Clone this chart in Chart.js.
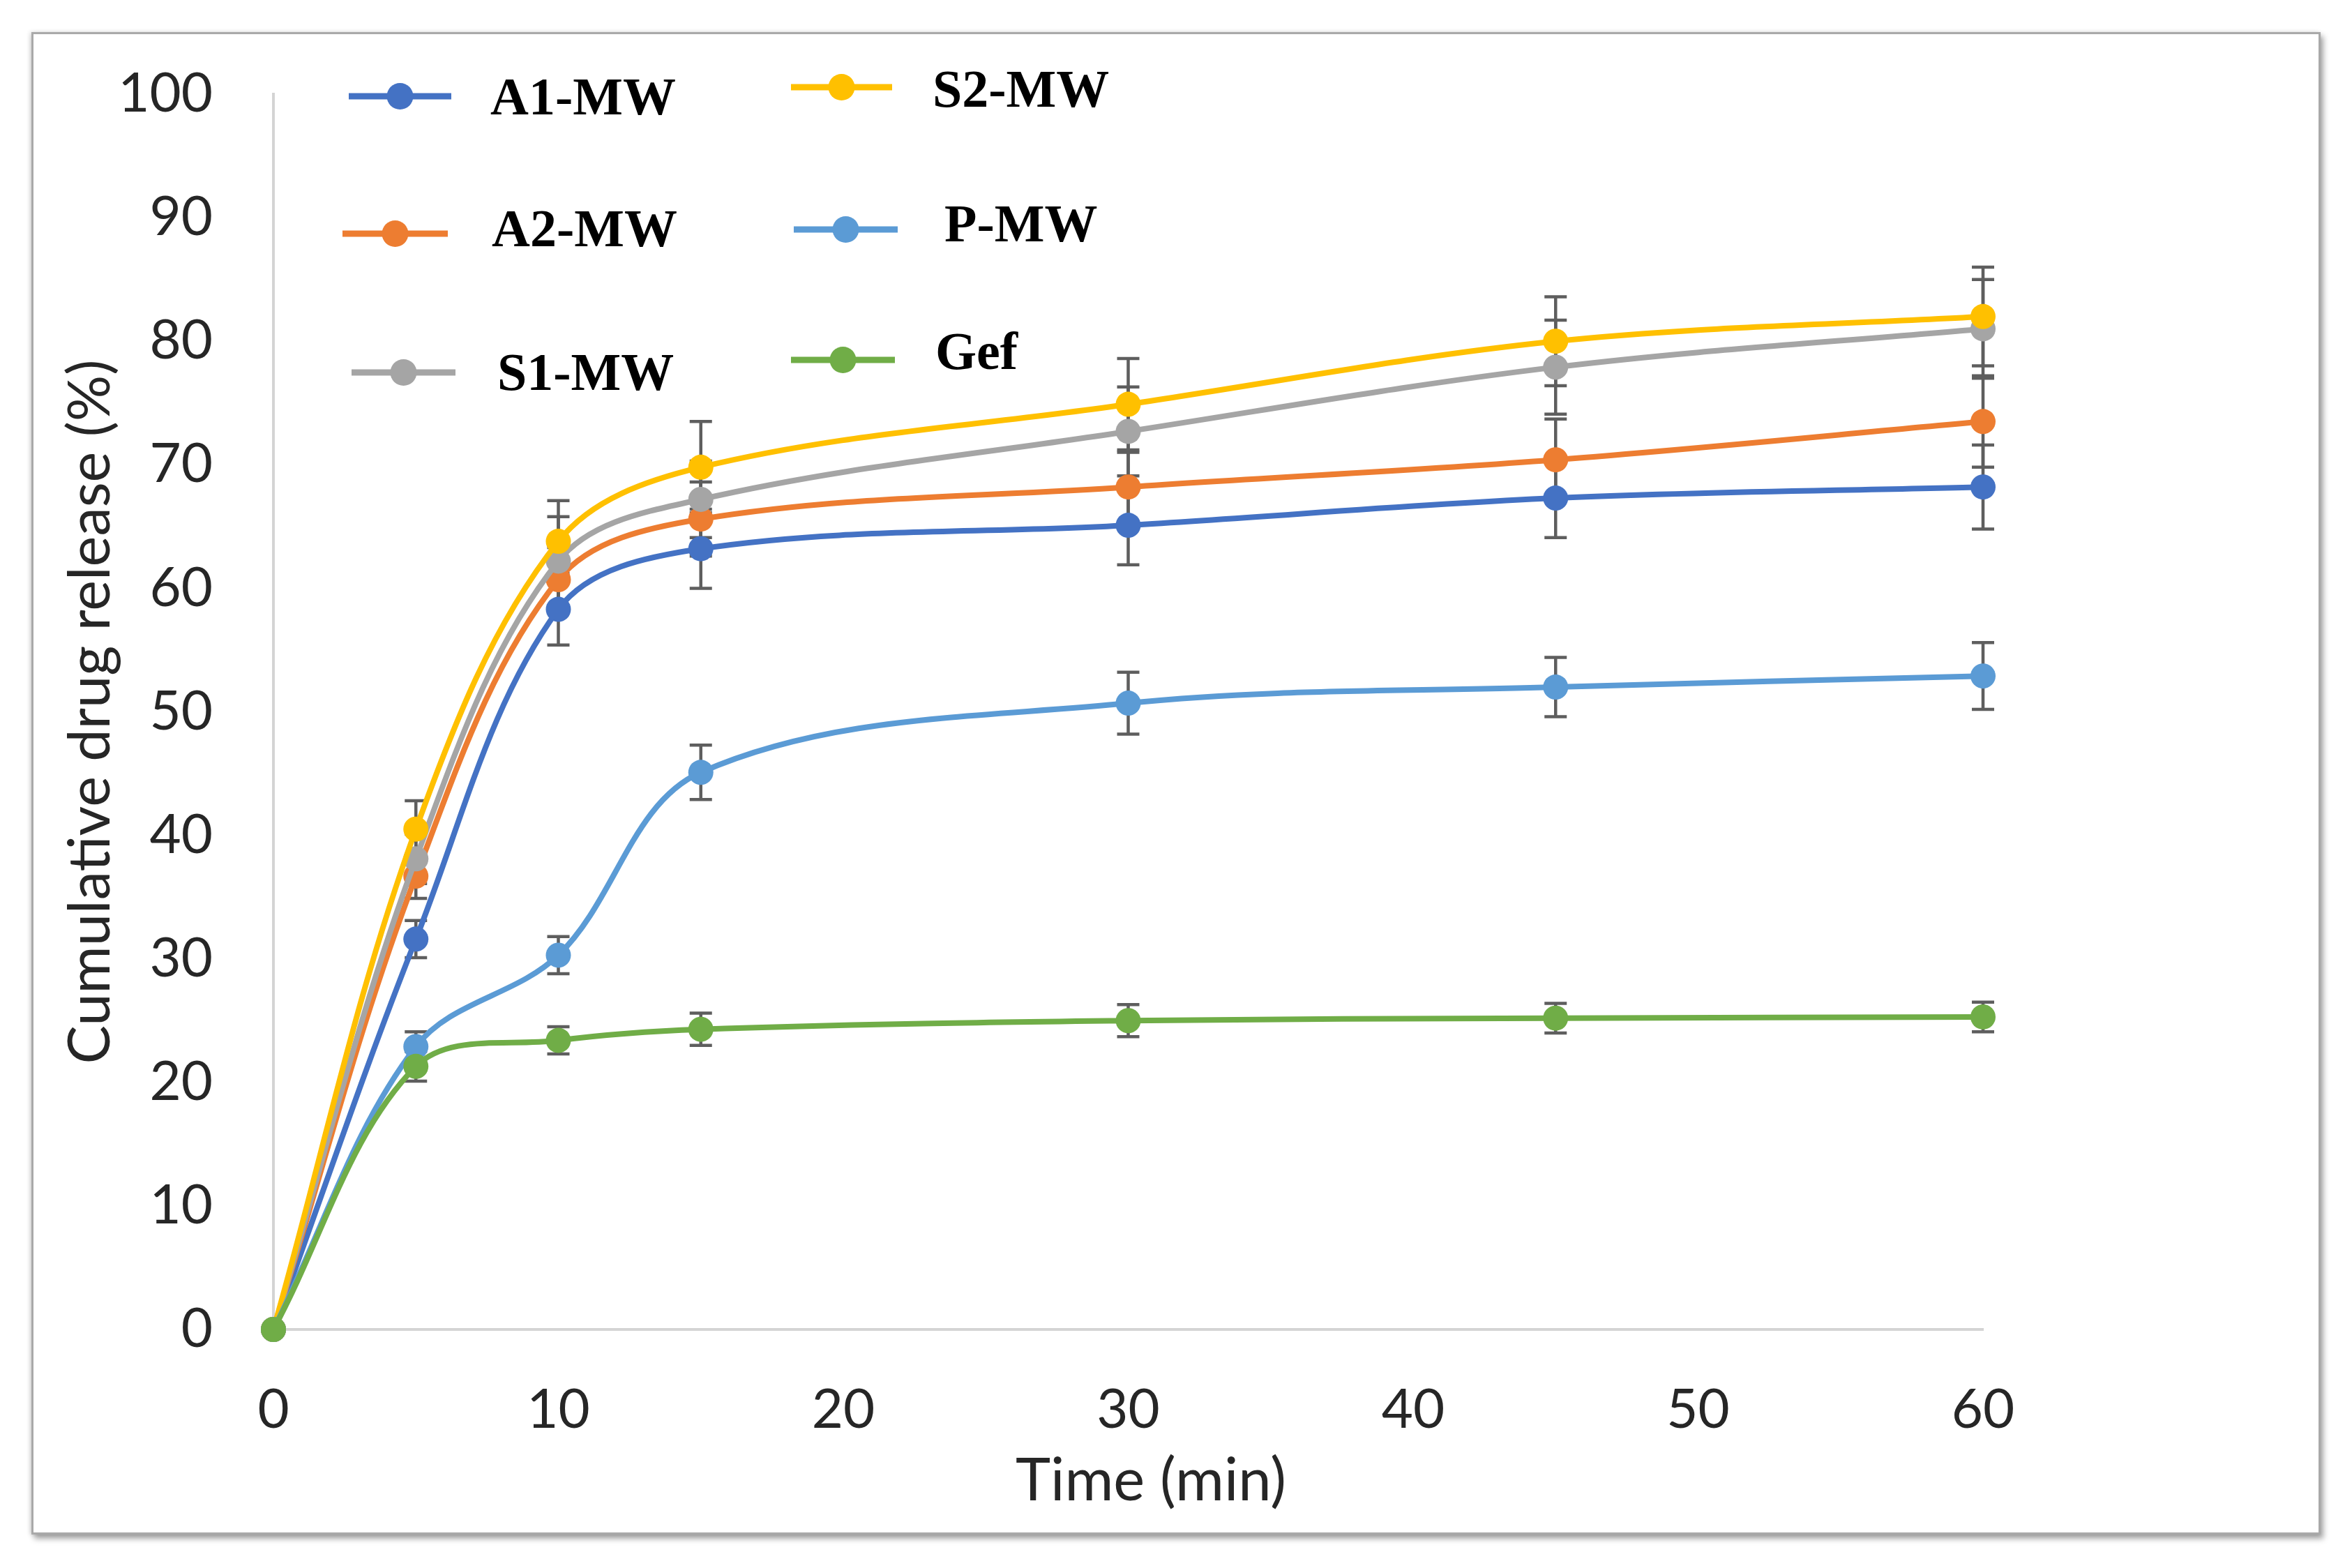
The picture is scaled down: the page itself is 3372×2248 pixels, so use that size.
<!DOCTYPE html>
<html>
<head>
<meta charset="utf-8">
<script src="https://cdn.jsdelivr.net/npm/chart.js@4.4.1/dist/chart.umd.min.js"></script>
<style>
html,body{margin:0;padding:0;background:#fff;width:3372px;height:2248px;overflow:hidden;}
#frame{position:absolute;left:45px;top:46px;width:3276px;height:2148px;border:3px solid #a9a9a9;
  box-shadow:4px 6px 8px rgba(0,0,0,0.35), -2px 0 6px rgba(0,0,0,0.15);background:#fff;}
#c{position:absolute;left:0;top:0;}
</style>
</head>
<body>
<div id="frame"></div>
<canvas id="c" width="3372" height="2248" style="width:3372px;height:2248px"></canvas>
<script>
// ---- data ----
const times = [0, 5, 10, 15, 30, 45, 60];
const seriesLabels = ['A1-MW', 'A2-MW', 'S1-MW', 'S2-MW', 'P-MW', 'Gef'];
const A1  = [0, 31.6, 58.3, 63.2, 65.1, 67.3, 68.2];
const A2  = [0, 36.7, 60.7, 65.6, 68.2, 70.4, 73.5];
const S1  = [0, 38.1, 62.2, 67.2, 72.7, 77.9, 81.0];
const S2  = [0, 40.5, 63.8, 69.8, 74.9, 80.0, 82.0];
const PMW = [0, 22.9, 30.3, 45.1, 50.7, 52.0, 52.9];
const Gef = [0, 21.3, 23.4, 24.3, 25.0, 25.2, 25.3];
const A1err  = [0, 1.5, 2.9, 3.2, 3.2, 3.2, 3.4];
const A2err  = [0, 1.8, 2.6, 3.0, 2.8, 3.3, 3.7];
const S1err  = [0, 2.0, 3.6, 3.1, 3.6, 3.8, 4.0];
const S2err  = [0, 2.3, 3.3, 3.7, 3.7, 3.6, 4.0];
const PMWerr = [0, 1.2, 1.5, 2.2, 2.5, 2.4, 2.7];
const Geferr = [0, 1.2, 1.1, 1.3, 1.3, 1.2, 1.2];
const xTicks = [0, 10, 20, 30, 40, 50, 60];
const yTicks = [0, 10, 20, 30, 40, 50, 60, 70, 80, 90, 100];
const xTitle = 'Time (min)';
const yTitle = 'Cumulative drug release (%)';

const values = [A1, A2, S1, S2, PMW, Gef];
const errors = [A1err, A2err, S1err, S2err, PMWerr, Geferr];
const colors = ['#4472C4', '#ED7D31', '#A5A5A5', '#FFC000', '#5B9BD5', '#70AD47'];
const drawOrder = [5, 4, 3, 2, 1, 0];

// legend slot layout: [lineX1, lineX2, lineY, textX, textBaseline]
const legendSlots = [
  [500, 647, 138, 703, 164],
  [491, 642, 335, 705, 353],
  [504, 653, 534, 713, 559],
  [1134, 1279, 125, 1337, 153],
  [1138, 1287, 329, 1354, 346],
  [1134, 1283, 516, 1341, 529]
];

const datasets = values.map((arr, k) => ({
  label: seriesLabels[k],
  data: times.map((t, i) => ({x: t, y: arr[i]})),
  errors: errors[k],
  borderColor: colors[k],
  backgroundColor: colors[k],
  pointBackgroundColor: colors[k],
  pointBorderWidth: 0,
  pointRadius: 18,
  pointHoverRadius: 18,
  borderWidth: 8,
  tension: 0.35,
  fill: false,
  clip: false,
  order: drawOrder[k]
}));

const errorBarPlugin = {
  id: 'errbars',
  beforeDatasetsDraw(chart) {
    const {ctx} = chart;
    const xs = chart.scales.x, ys = chart.scales.y;
    ctx.save();
    ctx.strokeStyle = '#5e5e5e';
    ctx.lineWidth = 4.5;
    chart.data.datasets.forEach(ds => {
      ds.data.forEach((p, i) => {
        const e = ds.errors[i];
        if (!e) return;
        const px = xs.getPixelForValue(p.x);
        const yt = ys.getPixelForValue(p.y + e);
        const yb = ys.getPixelForValue(p.y - e);
        ctx.beginPath();
        ctx.moveTo(px, yt); ctx.lineTo(px, yb);
        ctx.moveTo(px - 16, yt); ctx.lineTo(px + 16, yt);
        ctx.moveTo(px - 16, yb); ctx.lineTo(px + 16, yb);
        ctx.stroke();
      });
    });
    ctx.restore();
  }
};

const legendPlugin = {
  id: 'customLegend',
  afterDraw(chart) {
    const {ctx} = chart;
    ctx.save();
    chart.data.datasets.forEach((ds, k) => {
      const [x1, x2, ly, tx, tb] = legendSlots[k];
      ctx.strokeStyle = ds.borderColor;
      ctx.lineWidth = 9;
      ctx.lineCap = 'butt';
      ctx.beginPath();
      ctx.moveTo(x1, ly); ctx.lineTo(x2, ly);
      ctx.stroke();
      ctx.fillStyle = ds.borderColor;
      ctx.beginPath();
      ctx.arc((x1 + x2) / 2, ly, 19, 0, Math.PI * 2);
      ctx.fill();
      ctx.fillStyle = '#000';
      ctx.font = 'bold 76px "Liberation Serif", "Times New Roman", serif';
      ctx.textAlign = 'left';
      ctx.textBaseline = 'alphabetic';
      ctx.fillText(ds.label, tx, tb);
    });
    // x axis title (slightly right of the plot centre, as in the original)
    ctx.fillStyle = '#262626';
    ctx.font = '85px Lato';
    ctx.textAlign = 'center';
    ctx.textBaseline = 'middle';
    ctx.fillText(xTitle, 1650, 2124);
    ctx.restore();
  }
};

new Chart(document.getElementById('c'), {
  type: 'line',
  data: {datasets},
  plugins: [errorBarPlugin, legendPlugin],
  options: {
    responsive: false,
    devicePixelRatio: 1,
    animation: false,
    events: [],
    layout: {padding: {left: 0, right: 529, top: 135, bottom: 0}},
    plugins: {legend: {display: false}, tooltip: {enabled: false}},
    scales: {
      x: {
        type: 'linear',
        min: 0, max: 60,
        afterBuildTicks(s) { s.ticks = xTicks.map(v => ({value: v})); },
        afterFit(s) { s.height = 342; },
        grid: {display: false, drawTicks: false},
        border: {display: true, color: '#d4d4d4', width: 4},
        ticks: {padding: 69, color: '#262626', font: {family: 'Lato', size: 78}, maxRotation: 0},
        title: {display: false}
      },
      y: {
        type: 'linear',
        min: 0, max: 100,
        afterBuildTicks(s) { s.ticks = yTicks.map(v => ({value: v})); },
        afterFit(s) { s.width = 392; },
        grid: {display: false, drawTicks: false},
        border: {display: true, color: '#d4d4d4', width: 4},
        ticks: {padding: 87, color: '#262626', font: {family: 'Lato', size: 78}},
        title: {display: true, text: yTitle, color: '#262626',
                font: {family: 'Lato', size: 83}, padding: {top: 80, bottom: 0}}
      }
    }
  }
});
</script>
</body>
</html>
